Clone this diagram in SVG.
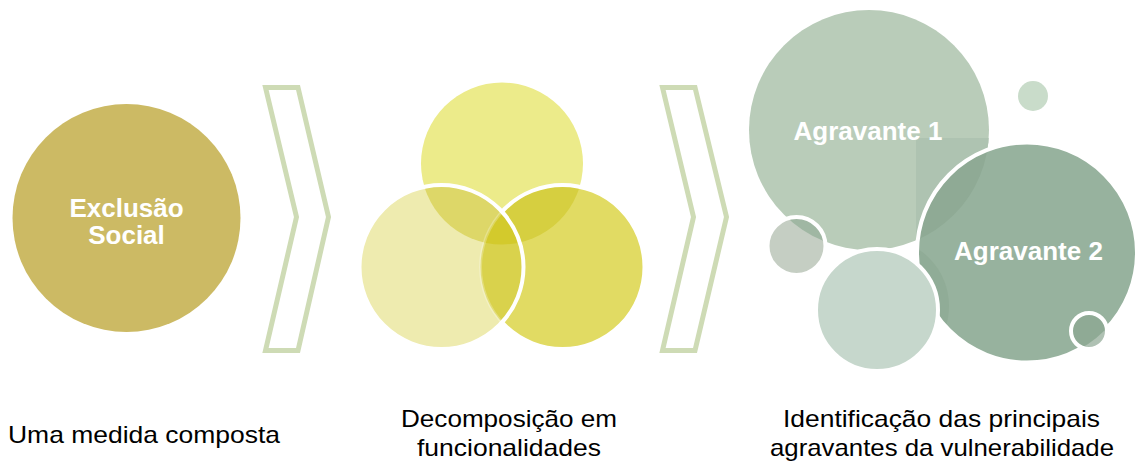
<svg xmlns="http://www.w3.org/2000/svg" width="1135" height="461" viewBox="0 0 1135 461">
  <style>
    .lbl { font-family: "Liberation Sans", Arial, sans-serif; font-weight: bold; font-size: 26px; fill: #ffffff; text-anchor: middle; }
    .cap { font-family: "Liberation Sans", Arial, sans-serif; font-size: 24px; fill: #000000; text-anchor: middle; }
    .chev { fill: none; stroke: #CEDBB5; stroke-width: 5; stroke-linejoin: miter; }
    .ws { fill: none; stroke: #ffffff; stroke-width: 4; }
  </style>
  <defs>
    <clipPath id="cTop"><circle cx="502" cy="163.5" r="81"/></clipPath>
    <clipPath id="cLeft"><circle cx="441.5" cy="267" r="82"/></clipPath>
    <clipPath id="cRight"><circle cx="562.5" cy="267" r="82"/></clipPath>
    <clipPath id="cBig"><circle cx="869" cy="130" r="120"/></clipPath>
    <clipPath id="cA2"><circle cx="1027" cy="252.5" r="110"/></clipPath>
  </defs>

  <g id="node-exclusao">
    <circle cx="126.5" cy="218" r="114" fill="#CCBA64"/>
    <text class="lbl" x="126.5" y="217">Exclusão</text>
    <text class="lbl" x="126.5" y="244">Social</text>
  </g>

  <g id="connectors">
    <polygon class="chev" points="265.5,87.5 298,87.5 328.5,217 298,350.5 265.5,350.5 296.5,217"/>
    <polygon class="chev" points="662.5,87.5 695,87.5 726.5,217 695,350.5 662.5,350.5 693.5,217"/>
  </g>

  <g id="node-decomposicao">
    <circle cx="502" cy="163.5" r="81" fill="#ECEB8A"/>
    <circle cx="562.5" cy="267" r="82" fill="#E1DB63"/>
    <circle cx="502" cy="163.5" r="81" fill="#D6CF40" clip-path="url(#cRight)"/>
    <circle class="ws" cx="562.5" cy="267" r="82"/>
    <circle cx="441.5" cy="267" r="82" fill="#EEEBAF"/>
    <g clip-path="url(#cLeft)">
      <circle cx="502" cy="163.5" r="81" fill="#DDD768"/>
      <circle cx="562.5" cy="267" r="82" fill="#D9D24C"/>
      <circle cx="502" cy="163.5" r="81" fill="#D3CA2C" clip-path="url(#cRight)"/>
      <circle cx="562.5" cy="267" r="82" fill="none" stroke="#ffffff" stroke-width="3" opacity="0.25"/>
    </g>
    <circle class="ws" cx="441.5" cy="267" r="82"/>
  </g>

  <g id="node-agravantes">
    <circle cx="869" cy="130" r="120" fill="#B9CCB9"/>
    <rect x="916" y="138" width="73" height="115" fill="#AEC3B1" clip-path="url(#cBig)"/>
    <circle cx="1033" cy="96" r="15" fill="#C9DCCA"/>
    <circle cx="1027" cy="252.5" r="110" fill="#97B29E"/>
    <g clip-path="url(#cA2)">
      <circle cx="869" cy="130" r="120" fill="#8FAA95"/>
      <circle cx="881" cy="306" r="68" fill="#8FAA95" opacity="0.8"/>
    </g>
    <circle class="ws" cx="1027" cy="252.5" r="110"/>
    <circle cx="796.5" cy="246" r="29" fill="#C5CEC3"/>
    <circle cx="796.5" cy="246" r="29" fill="#A0B7A3" clip-path="url(#cBig)"/>
    <circle class="ws" cx="796.5" cy="246" r="29"/>
    <circle cx="877" cy="310" r="61" fill="#C6D7CC"/>
    <circle class="ws" cx="877" cy="310" r="61"/>
    <circle cx="1089" cy="331" r="18" fill="#AFC1B3"/>
    <circle cx="1089" cy="331" r="18" fill="#8FAA95" clip-path="url(#cA2)"/>
    <circle class="ws" cx="1089" cy="331" r="18"/>
    <text class="lbl" x="868" y="140">Agravante 1</text>
    <text class="lbl" x="1028.5" y="260">Agravante 2</text>
  </g>

  <g id="captions">
    <text class="cap" x="144" y="443" textLength="272" lengthAdjust="spacingAndGlyphs">Uma medida composta</text>
    <text class="cap" x="509" y="427" textLength="216" lengthAdjust="spacingAndGlyphs">Decomposição em</text>
    <text class="cap" x="509" y="456" textLength="184" lengthAdjust="spacingAndGlyphs">funcionalidades</text>
    <text class="cap" x="941.5" y="427" textLength="317" lengthAdjust="spacingAndGlyphs">Identificação das principais</text>
    <text class="cap" x="942" y="456" textLength="344" lengthAdjust="spacingAndGlyphs">agravantes da vulnerabilidade</text>
  </g>
</svg>
